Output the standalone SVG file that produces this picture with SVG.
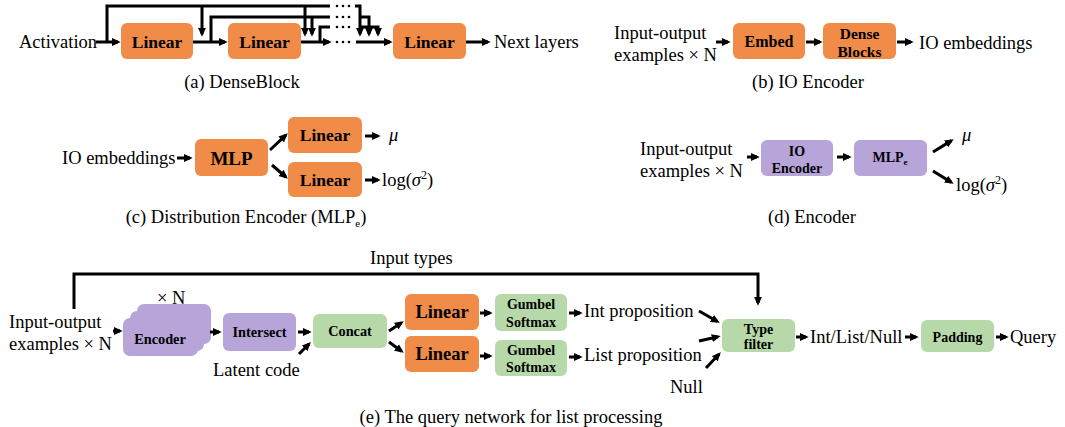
<svg xmlns="http://www.w3.org/2000/svg" width="1065" height="427" viewBox="0 0 1065 427">
<defs>
<marker id="ah" viewBox="0 0 10 10" refX="7" refY="5" markerWidth="3" markerHeight="3" orient="auto" markerUnits="strokeWidth"><path d="M0,0.5 L10,5 L0,9.5 z" fill="#000"/></marker>
<style>
.t{font-family:"Liberation Serif","Times New Roman",serif;font-size:18.5px;fill:#000}
.b{font-family:"Liberation Serif","Times New Roman",serif;font-weight:bold;fill:#000;text-anchor:middle}
.or{fill:#F08B48}
.pu{fill:#B7A4D8}
.gr{fill:#B7D9A9}
.ln{stroke:#000;stroke-width:3;fill:none}
.ar{stroke:#000;stroke-width:3;fill:none;marker-end:url(#ah)}
.dot{fill:#000}
</style>
</defs>
<rect width="1065" height="427" fill="#fff"/>

<!-- (a) DenseBlock -->
<g id="a-labels">
<text class="t" x="19" y="48">Activation</text>
<text class="t" x="494" y="48">Next layers</text>
<text class="t" x="242" y="88" text-anchor="middle">(a) DenseBlock</text>
</g>
<g id="a-linear1"><rect class="or" x="121" y="23" width="72" height="36" rx="6"/><text class="b" x="157" y="48" font-size="17.5">Linear</text></g>
<g id="a-linear2"><rect class="or" x="228" y="23" width="73" height="36" rx="6"/><text class="b" x="264.5" y="48" font-size="17.5">Linear</text></g>
<g id="a-linear3"><rect class="or" x="393" y="23" width="73" height="36" rx="6"/><text class="b" x="429.5" y="48" font-size="17.5">Linear</text></g>

<!-- (b) IO Encoder -->
<g id="b-labels">
<text class="t" x="614" y="39">Input-output</text>
<text class="t" x="614" y="61">examples × N</text>
<text class="t" x="919" y="49">IO embeddings</text>
<text class="t" x="808" y="88" text-anchor="middle">(b) IO Encoder</text>
</g>
<g id="b-embed"><rect class="or" x="733" y="23" width="72" height="36" rx="6"/><text class="b" x="769" y="47" font-size="16">Embed</text></g>
<g id="b-dense"><rect class="or" x="823" y="23" width="73" height="36" rx="6"/><text class="b" x="859.5" y="38.5" font-size="15.5">Dense</text><text class="b" x="859.5" y="56.5" font-size="15.5">Blocks</text></g>

<!-- (c) Distribution Encoder -->
<g id="c-labels">
<text class="t" x="62" y="164">IO embeddings</text>
<text class="t" x="389" y="141" font-style="italic">μ</text>
<text class="t" x="382" y="186">log(<tspan font-style="italic">σ</tspan><tspan dy="-7" font-size="12">2</tspan><tspan dy="7">)</tspan></text>
<text class="t" x="246" y="223" text-anchor="middle">(c) Distribution Encoder (MLP<tspan dy="4" font-size="11">e</tspan><tspan dy="-4">)</tspan></text>
</g>
<g id="c-mlp"><rect class="or" x="195" y="139" width="73" height="37" rx="6"/><text class="b" x="231.5" y="164.5" font-size="19">MLP</text></g>
<g id="c-linear1"><rect class="or" x="288" y="117" width="74" height="36" rx="6"/><text class="b" x="325" y="141" font-size="17.5">Linear</text></g>
<g id="c-linear2"><rect class="or" x="288" y="162" width="74" height="35" rx="6"/><text class="b" x="325" y="186" font-size="17.5">Linear</text></g>

<!-- (d) Encoder -->
<g id="d-labels">
<text class="t" x="640" y="155">Input-output</text>
<text class="t" x="640" y="177">examples × N</text>
<text class="t" x="962" y="141" font-style="italic">μ</text>
<text class="t" x="956" y="191">log(<tspan font-style="italic">σ</tspan><tspan dy="-7" font-size="12">2</tspan><tspan dy="7">)</tspan></text>
<text class="t" x="812" y="223" text-anchor="middle">(d) Encoder</text>
</g>
<g id="d-ioenc"><rect class="pu" x="761" y="140" width="72" height="36" rx="6"/><text class="b" x="797" y="156" font-size="14">IO</text><text class="b" x="797" y="173" font-size="14">Encoder</text></g>
<g id="d-mlpe"><rect class="pu" x="854" y="140" width="73" height="36" rx="6"/><text class="b" x="890" y="162" font-size="14">MLP<tspan dy="3" font-size="9">e</tspan></text></g>

<!-- (e) Query network -->
<g id="e-labels">
<text class="t" x="370" y="264">Input types</text>
<text class="t" x="9" y="328">Input-output</text>
<text class="t" x="9" y="350">examples × N</text>
<text class="t" x="157" y="304">× N</text>
<text class="t" x="213" y="376">Latent code</text>
<text class="t" x="584" y="317">Int proposition</text>
<text class="t" x="584" y="361">List proposition</text>
<text class="t" x="670" y="393">Null</text>
<text class="t" x="810" y="343">Int/List/Null</text>
<text class="t" x="1010" y="343">Query</text>
<text class="t" x="511" y="423" text-anchor="middle">(e) The query network for list processing</text>
</g>
<g id="e-encoder">
<rect class="pu" x="137" y="304" width="74" height="40" rx="7"/>
<rect class="pu" x="130" y="311" width="74" height="40" rx="7"/>
<rect class="pu" x="123" y="318" width="75" height="38" rx="7"/>
<text class="b" x="160" y="344" font-size="14.3">Encoder</text>
</g>
<g id="e-intersect"><rect class="pu" x="223" y="313" width="73" height="38" rx="6"/><text class="b" x="259.5" y="337" font-size="14.3">Intersect</text></g>
<g id="e-concat"><rect class="gr" x="313" y="314" width="74" height="34" rx="6"/><text class="b" x="350" y="336" font-size="14.3">Concat</text></g>
<g id="e-linear1"><rect class="or" x="405" y="294" width="74" height="36" rx="6"/><text class="b" x="442" y="318" font-size="18.4">Linear</text></g>
<g id="e-linear2"><rect class="or" x="405" y="336" width="74" height="36" rx="6"/><text class="b" x="442" y="360" font-size="18.4">Linear</text></g>
<g id="e-gumbel1"><rect class="gr" x="495" y="294" width="72" height="37" rx="6"/><text class="b" x="531" y="309" font-size="14">Gumbel</text><text class="b" x="531" y="327" font-size="14">Softmax</text></g>
<g id="e-gumbel2"><rect class="gr" x="495" y="340" width="72" height="36" rx="6"/><text class="b" x="531" y="354.5" font-size="14">Gumbel</text><text class="b" x="531" y="372" font-size="14">Softmax</text></g>
<g id="e-typefilter"><rect class="gr" x="722" y="319" width="73" height="33" rx="6"/><text class="b" x="758.5" y="334" font-size="14">Type</text><text class="b" x="758.5" y="349" font-size="14">filter</text></g>
<g id="e-padding"><rect class="gr" x="921" y="320" width="73" height="32" rx="6"/><text class="b" x="957.5" y="341.5" font-size="14">Padding</text></g>

<!-- connectors -->
<g id="connectors">
<!-- (a) -->
<path class="ar" d="M96,42 H118"/>
<path class="ln" d="M107,42 V6 H330"/>
<path class="ar" d="M202,6 V34"/>
<path class="ar" d="M193,42 H225"/>
<path class="ln" d="M211,42 V17 H330"/>
<path class="ar" d="M305,6 V34"/>
<path class="ar" d="M312,17 V34"/>
<path class="ar" d="M301,42 H329"/>
<path class="ln" d="M320,42 V27 H330"/>
<g class="dot">
<circle cx="337" cy="6" r="1.3"/><circle cx="343" cy="6" r="1.3"/><circle cx="349" cy="6" r="1.3"/>
<circle cx="337" cy="17" r="1.3"/><circle cx="343" cy="17" r="1.3"/><circle cx="349" cy="17" r="1.3"/>
<circle cx="337" cy="27" r="1.3"/><circle cx="343" cy="27" r="1.3"/><circle cx="349" cy="27" r="1.3"/>
<circle cx="337" cy="42" r="1.3"/><circle cx="343" cy="42" r="1.3"/><circle cx="349" cy="42" r="1.3"/>
</g>
<path class="ar" d="M355,6 H360 V34"/>
<path class="ar" d="M360,17 H369 V34"/>
<path class="ar" d="M360,27 H378 V34"/>
<path class="ar" d="M356,42 H390"/>
<path class="ar" d="M466,42 H488"/>
<!-- (b) -->
<path class="ar" d="M716,42 H728"/>
<path class="ar" d="M806,42 H820"/>
<path class="ar" d="M897,42 H911"/>
<!-- (c) -->
<path class="ar" d="M177,158 H190"/>
<path class="ar" d="M270,150 L285.8,135.1"/>
<path class="ar" d="M272,165 L285.8,177"/>
<path class="ar" d="M365,136 H378"/>
<path class="ar" d="M365,180 H378"/>
<!-- (d) -->
<path class="ar" d="M747,157 H757"/>
<path class="ar" d="M837,157 H849"/>
<path class="ar" d="M933,152 L951.4,140.6"/>
<path class="ar" d="M933,171 L951.4,182.4"/>
<!-- (e) -->
<path class="ar" d="M74,309 V274 H758 V303"/>
<path class="ar" d="M113,331 H120"/>
<path class="ar" d="M210,332 H219"/>
<path class="ar" d="M298,332 H309"/>
<path class="ar" d="M299,354 L309,344"/>
<path class="ar" d="M389,331 L401.5,322.7"/>
<path class="ar" d="M389,342 L401.6,351.2"/>
<path class="ar" d="M480,313 H490"/>
<path class="ar" d="M480,356 H490"/>
<path class="ar" d="M569,313 H580"/>
<path class="ar" d="M569,357 H580"/>
<path class="ar" d="M699,311 L717.4,321.5"/>
<path class="ar" d="M699,341 L718.1,336.7"/>
<path class="ar" d="M706,368 L719,354.2"/>
<path class="ar" d="M796,337 H806"/>
<path class="ar" d="M905,337 H916"/>
<path class="ar" d="M996,337 H1006"/>
</g>
</svg>
